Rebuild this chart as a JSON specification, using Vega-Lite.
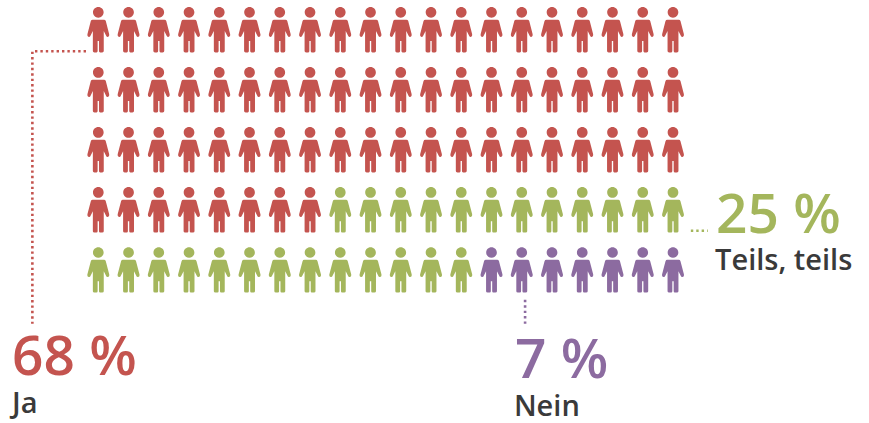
{"$schema":"https://vega.github.io/schema/vega-lite/v6.json","width":869,"height":423,"autosize":{"type":"fit","contains":"padding"},"padding":0,"background":"white","view":{"stroke":null},
"datasets":{"people":[
{"col":1,"row":1,"answer":"Ja"},{"col":2,"row":1,"answer":"Ja"},{"col":3,"row":1,"answer":"Ja"},{"col":4,"row":1,"answer":"Ja"},{"col":5,"row":1,"answer":"Ja"},{"col":6,"row":1,"answer":"Ja"},{"col":7,"row":1,"answer":"Ja"},{"col":8,"row":1,"answer":"Ja"},{"col":9,"row":1,"answer":"Ja"},{"col":10,"row":1,"answer":"Ja"},{"col":11,"row":1,"answer":"Ja"},{"col":12,"row":1,"answer":"Ja"},{"col":13,"row":1,"answer":"Ja"},{"col":14,"row":1,"answer":"Ja"},{"col":15,"row":1,"answer":"Ja"},{"col":16,"row":1,"answer":"Ja"},{"col":17,"row":1,"answer":"Ja"},{"col":18,"row":1,"answer":"Ja"},{"col":19,"row":1,"answer":"Ja"},{"col":20,"row":1,"answer":"Ja"},
{"col":1,"row":2,"answer":"Ja"},{"col":2,"row":2,"answer":"Ja"},{"col":3,"row":2,"answer":"Ja"},{"col":4,"row":2,"answer":"Ja"},{"col":5,"row":2,"answer":"Ja"},{"col":6,"row":2,"answer":"Ja"},{"col":7,"row":2,"answer":"Ja"},{"col":8,"row":2,"answer":"Ja"},{"col":9,"row":2,"answer":"Ja"},{"col":10,"row":2,"answer":"Ja"},{"col":11,"row":2,"answer":"Ja"},{"col":12,"row":2,"answer":"Ja"},{"col":13,"row":2,"answer":"Ja"},{"col":14,"row":2,"answer":"Ja"},{"col":15,"row":2,"answer":"Ja"},{"col":16,"row":2,"answer":"Ja"},{"col":17,"row":2,"answer":"Ja"},{"col":18,"row":2,"answer":"Ja"},{"col":19,"row":2,"answer":"Ja"},{"col":20,"row":2,"answer":"Ja"},
{"col":1,"row":3,"answer":"Ja"},{"col":2,"row":3,"answer":"Ja"},{"col":3,"row":3,"answer":"Ja"},{"col":4,"row":3,"answer":"Ja"},{"col":5,"row":3,"answer":"Ja"},{"col":6,"row":3,"answer":"Ja"},{"col":7,"row":3,"answer":"Ja"},{"col":8,"row":3,"answer":"Ja"},{"col":9,"row":3,"answer":"Ja"},{"col":10,"row":3,"answer":"Ja"},{"col":11,"row":3,"answer":"Ja"},{"col":12,"row":3,"answer":"Ja"},{"col":13,"row":3,"answer":"Ja"},{"col":14,"row":3,"answer":"Ja"},{"col":15,"row":3,"answer":"Ja"},{"col":16,"row":3,"answer":"Ja"},{"col":17,"row":3,"answer":"Ja"},{"col":18,"row":3,"answer":"Ja"},{"col":19,"row":3,"answer":"Ja"},{"col":20,"row":3,"answer":"Ja"},
{"col":1,"row":4,"answer":"Ja"},{"col":2,"row":4,"answer":"Ja"},{"col":3,"row":4,"answer":"Ja"},{"col":4,"row":4,"answer":"Ja"},{"col":5,"row":4,"answer":"Ja"},{"col":6,"row":4,"answer":"Ja"},{"col":7,"row":4,"answer":"Ja"},{"col":8,"row":4,"answer":"Ja"},{"col":9,"row":4,"answer":"Teils, teils"},{"col":10,"row":4,"answer":"Teils, teils"},{"col":11,"row":4,"answer":"Teils, teils"},{"col":12,"row":4,"answer":"Teils, teils"},{"col":13,"row":4,"answer":"Teils, teils"},{"col":14,"row":4,"answer":"Teils, teils"},{"col":15,"row":4,"answer":"Teils, teils"},{"col":16,"row":4,"answer":"Teils, teils"},{"col":17,"row":4,"answer":"Teils, teils"},{"col":18,"row":4,"answer":"Teils, teils"},{"col":19,"row":4,"answer":"Teils, teils"},{"col":20,"row":4,"answer":"Teils, teils"},
{"col":1,"row":5,"answer":"Teils, teils"},{"col":2,"row":5,"answer":"Teils, teils"},{"col":3,"row":5,"answer":"Teils, teils"},{"col":4,"row":5,"answer":"Teils, teils"},{"col":5,"row":5,"answer":"Teils, teils"},{"col":6,"row":5,"answer":"Teils, teils"},{"col":7,"row":5,"answer":"Teils, teils"},{"col":8,"row":5,"answer":"Teils, teils"},{"col":9,"row":5,"answer":"Teils, teils"},{"col":10,"row":5,"answer":"Teils, teils"},{"col":11,"row":5,"answer":"Teils, teils"},{"col":12,"row":5,"answer":"Teils, teils"},{"col":13,"row":5,"answer":"Teils, teils"},{"col":14,"row":5,"answer":"Nein"},{"col":15,"row":5,"answer":"Nein"},{"col":16,"row":5,"answer":"Nein"},{"col":17,"row":5,"answer":"Nein"},{"col":18,"row":5,"answer":"Nein"},{"col":19,"row":5,"answer":"Nein"},{"col":20,"row":5,"answer":"Nein"}],
"leaders":[
{"answer":"Ja","step":1,"col":0.593,"row":1.359},{"answer":"Ja","step":2,"col":-1.18,"row":1.359},{"answer":"Ja","step":3,"col":-1.18,"row":5.9},
{"answer":"Teils, teils","step":1,"col":20.59,"row":4.35},{"answer":"Teils, teils","step":2,"col":21.15,"row":4.35},
{"answer":"Nein","step":1,"col":15.11,"row":5.5},{"answer":"Nein","step":2,"col":15.11,"row":5.93}],
"values":[{"text":"68 %","answer":"Ja","col":-1.853,"row":6.75},{"text":"25 %","answer":"Teils, teils","col":21.42,"row":4.38},{"text":"7 %","answer":"Nein","col":14.78,"row":6.8}],
"names":[{"text":"Ja","answer":"Label","col":-1.853,"row":7.39},{"text":"Teils, teils","answer":"Label","col":21.39,"row":5.0},{"text":"Nein","answer":"Label","col":14.74,"row":7.44}]},
"encoding":{
"x":{"field":"col","type":"quantitative","axis":null,"scale":{"domain":[-2.25,26.48],"nice":false,"zero":false}},
"y":{"field":"row","type":"quantitative","axis":null,"scale":{"domain":[0.505,7.485],"reverse":true,"nice":false,"zero":false}},
"color":{"field":"answer","type":"nominal","legend":null,"scale":{"domain":["Ja","Teils, teils","Nein","Label"],"range":["#C4544F","#A4B65C","#8C6BA0","#3A3A3A"]}}},
"layer":[
{"data":{"name":"people"},"mark":{"type":"point","filled":true,"opacity":1,"strokeWidth":0,"size":2061,"shape":"M -.235 -.765 A .235 .235 0 1 1 .235 -.765 A .235 .235 0 1 1 -.235 -.765 Z M -.25 -.44 L .25 -.44 Q .31 -.44 .33 -.38 L .48 .2 Q .5 .3 .42 .32 Q .36 .33 .34 .26 L .24 .06 L .24 .94 Q .24 1 .17 1 L .08 1 Q .03 1 .03 .94 L .03 .5 L -.03 .5 L -.03 .94 Q -.03 1 -.08 1 L -.17 1 Q -.24 1 -.24 .94 L -.24 .06 L -.34 .26 Q -.36 .33 -.42 .32 Q -.5 .3 -.48 .2 L -.33 -.38 Q -.31 -.44 -.25 -.44 Z"}},
{"data":{"name":"leaders"},"mark":{"type":"line","strokeWidth":2.6,"strokeDash":[2.4,3],"interpolate":"linear"},"encoding":{"order":{"field":"step"},"detail":{"field":"answer"}}},
{"data":{"name":"values"},"mark":{"type":"text","align":"left","baseline":"alphabetic","font":"Open Sans","fontWeight":600,"fontSize":55},"encoding":{"text":{"field":"text"}}},
{"data":{"name":"names"},"mark":{"type":"text","align":"left","baseline":"alphabetic","font":"Open Sans","fontWeight":600,"fontSize":29},"encoding":{"text":{"field":"text"}}}
]}
